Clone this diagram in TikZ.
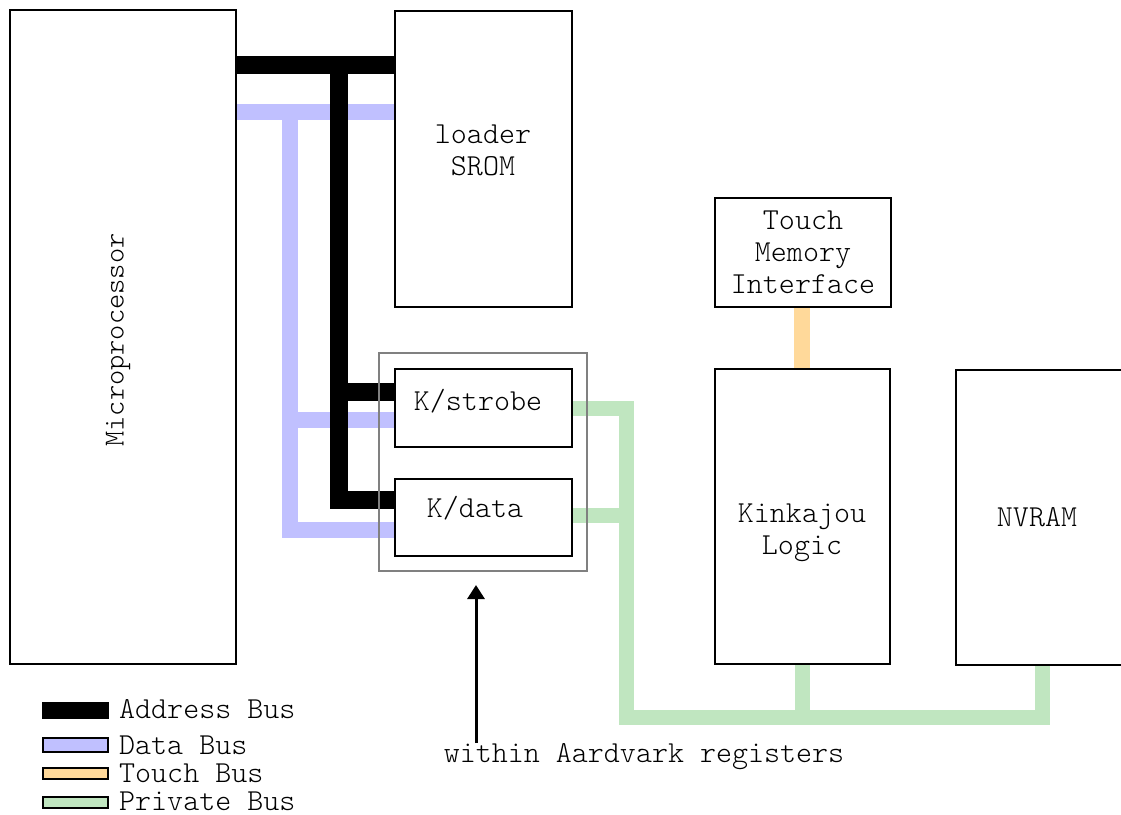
\documentclass[tikz,border=0pt]{standalone}
\usepackage{fontspec}
\newfontfamily\diagfont{Latin Modern Mono Light}
\usetikzlibrary{arrows.meta,backgrounds}
\definecolor{datac}{RGB}{192,192,255}
\definecolor{touchc}{RGB}{255,217,154}
\definecolor{privc}{RGB}{192,230,192}
\definecolor{aardc}{RGB}{128,128,128}
\begin{document}
\begin{tikzpicture}[x=1pt,y=-1pt,
  box/.style={draw=black,line width=2pt,fill=white,inner sep=0pt},
  lbl/.style={inner sep=0pt,align=center,font=\diagfont\fontsize{30.5}{32}\selectfont},
  leglbl/.style={inner sep=0pt,anchor=base west,font=\diagfont\fontsize{30.5}{32}\selectfont},
  addrbus/.style={line width=18pt,draw=black},
  databus/.style={line width=16pt,draw=datac},
  touchbus/.style={line width=16pt,draw=touchc},
  privbus/.style={line width=15pt,draw=privc},
  swatch/.style={draw=black,line width=2pt,minimum width=65pt,inner sep=0pt}]
\useasboundingbox (0,0) rectangle (1121,814);
\clip (0,0) rectangle (1121,814);

% boxes
\node[box,minimum width=226pt,minimum height=654pt] (micro) at (123,337) {};
\node[box,minimum width=177pt,minimum height=296pt] (srom) at (483.5,159) {};
\node[box,minimum width=176pt,minimum height=109pt] (touch) at (803,252.5) {};
\node[box,minimum width=175pt,minimum height=295pt] (kink) at (802.5,516.5) {};
\node[box,minimum width=190pt,minimum height=295pt,anchor=north west] (nvram) at (955,369) {};
\node[draw=aardc,line width=2pt,minimum width=208pt,minimum height=218pt,inner sep=0pt] (aard) at (483,462) {};
\node[box,minimum width=177pt,minimum height=78pt] (kstrobe) at (483.5,408) {};
\node[box,minimum width=177pt,minimum height=77pt] (kdata) at (483.5,517.5) {};

% labels
\node[lbl,rotate=90,font=\diagfont\fontsize{29}{30}\selectfont] (microl) at (118,340) {Microprocessor};
\node[lbl] (sroml) at (483,150) {loader\\SROM};
\node[lbl] (touchl) at (803,252) {Touch\\Memory\\Interface};
\node[lbl] (kinkl) at (802,533) {Kinkajou\\Logic};
\node[lbl] (nvraml) at (1037,517) {NVRAM};
\node[lbl] (kstrobel) at (478,401) {K/strobe};
\node[lbl] (kdatal) at (475,508) {K/data};
\node[lbl] (within) at (644,757) {within Aardvark registers};

% junction coordinates
\coordinate (aj) at (339,65);
\coordinate (as) at (339,392);
\coordinate (ab) at (339,500);
\coordinate (dj) at (290,112);
\coordinate (ds) at (290,420);
\coordinate (db) at (290,530);
\coordinate (ps) at (626,408);
\coordinate (pd) at (626,515);
\coordinate (pb) at (626,717);
\coordinate (pk) at (802,717);
\coordinate (pn) at (1042,717);

\begin{scope}[on background layer]
  % data bus
  \draw[databus] (micro.east |- dj) -- (srom.west |- dj);
  \draw[databus] (dj) -- (db) -- (kdata.west |- db);
  \draw[databus] (ds) -- (kstrobe.west |- ds);
  % address bus
  \draw[addrbus] (micro.east |- aj) -- (srom.west |- aj);
  \draw[addrbus] (aj) -- (ab) -- (kdata.west |- ab);
  \draw[addrbus] (as) -- (kstrobe.west |- as);
  % private bus
  \draw[privbus] (kstrobe.east |- ps) -- (ps) -- (pb) -- (pn) -- (nvram.south -| pn);
  \draw[privbus] (kdata.east |- pd) -- (pd);
  \draw[privbus] (pk) -- (kink.south -| pk);
  % touch bus
  \draw[touchbus] (touch.south -| pk) -- (kink.north -| pk);
\end{scope}

% arrow
\coordinate (atail) at (476,743);
\coordinate (ahead) at (476,585);
\draw[line width=3pt,-{Triangle[width=17pt,length=14pt]}] (atail) -- (ahead);

% legend
\node[swatch,fill=black,minimum height=15pt] (s1) at (75.5,710.5) {};
\node[swatch,fill=datac,minimum height=14pt] (s2) at (75.5,745) {};
\node[swatch,fill=touchc,minimum height=11pt] (s3) at (75.5,773.5) {};
\node[swatch,fill=privc,minimum height=11pt] (s4) at (75.5,802.5) {};
\node[leglbl] (l1) at (119,718) {Address Bus};
\node[leglbl] (l2) at (119,754) {Data Bus};
\node[leglbl] (l3) at (119,782) {Touch Bus};
\node[leglbl] (l4) at (119,810) {Private Bus};
\end{tikzpicture}
\end{document}
